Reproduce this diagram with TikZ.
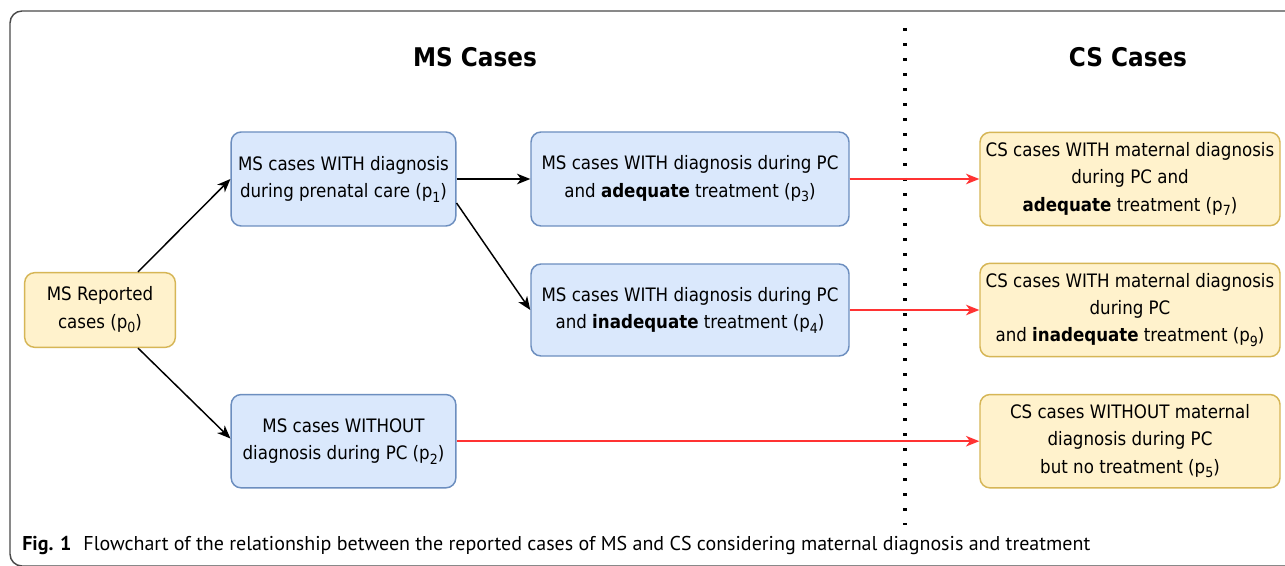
\documentclass[tikz,border=0pt]{standalone}
\usepackage{fontspec}
\setmainfont{DejaVu Sans Condensed}
\newfontfamily\capfont{PT Sans}
\usepackage{xcolor}
\usetikzlibrary{arrows.meta}
\definecolor{MsFill}{HTML}{DAE8FC}
\definecolor{MsLine}{HTML}{6C8EBF}
\definecolor{CsFill}{HTML}{FFF2CC}
\definecolor{CsLine}{HTML}{D6B656}
\definecolor{Frame}{HTML}{4A4A4A}
\definecolor{Link}{HTML}{FF3333}
\newcommand\pidx[1]{p\raisebox{-0.25em}{\fontsize{10.5}{10.5}\selectfont #1}}
\tikzset{
  box/.style={line width=1.1pt,rounded corners=7.5pt,align=center,
    font=\fontsize{13.9}{20.5}\selectfont,inner sep=2pt},
  msbox/.style={box,draw=MsLine,fill=MsFill},
  csbox/.style={box,draw=CsLine,fill=CsFill,minimum width=225pt,minimum height=70pt},
  arr/.style={line width=1.1pt,-{Stealth[length=10pt,width=8pt,inset=3pt]}},
  redarr/.style={arr,draw=Link,fill=Link},
}

\begin{document}
\begin{tikzpicture}[x=0.75pt,y=0.75pt]
\path[use as bounding box,fill=white] (0,0) rectangle (1285,565);
\begin{scope}
\clip (0,0) rectangle (1285,565);
\draw[Frame,line width=1.1pt,rounded corners=9pt] (10,554) rectangle (1320,-1);
\end{scope}
% column titles
\node[font=\fontsize{19.3}{23}\selectfont\bfseries] (mstitle) at (475,508) {MS Cases};
\node[font=\fontsize{19.3}{23}\selectfont\bfseries] (cstitle) at (1128,508) {CS Cases};
\draw[line width=2.6pt,dash pattern=on 2.6pt off 8.65pt] (905,537) -- (905,40);
% MS side
\node[box,draw=CsLine,fill=CsFill,minimum width=113pt,minimum height=56pt] (p0) at (100,255)
  {MS Reported\\cases (\pidx{0})};
\node[msbox,minimum width=168.5pt,minimum height=70.5pt] (p1) at (343.5,386)
  {MS cases WITH diagnosis\\during prenatal care (\pidx{1})};
\node[msbox,minimum width=168.5pt,minimum height=70pt] (p2) at (343.5,123.8)
  {MS cases WITHOUT\\diagnosis during PC (\pidx{2})};
\node[msbox,minimum width=238.5pt,minimum height=70.5pt] (p3) at (690,386)
  {MS cases WITH diagnosis during PC\\and \textbf{adequate} treatment (\pidx{3})};
\node[msbox,minimum width=238.5pt,minimum height=69pt] (p4) at (690,255)
  {MS cases WITH diagnosis during PC\\and \textbf{inadequate} treatment (\pidx{4})};
% CS side
\node[csbox] (p7) at (1130,386)
  {CS cases WITH maternal diagnosis\\during PC and\\\textbf{adequate} treatment (\pidx{7})};
\node[csbox] (p9) at (1130,255)
  {CS cases WITH maternal diagnosis\\during PC\\and \textbf{inadequate} treatment (\pidx{9})};
\node[csbox] (p5) at (1130,123.8)
  {CS cases WITHOUT maternal\\diagnosis during PC\\but no treatment (\pidx{5})};
% connectors
\draw[arr] ([xshift=28.5pt]p0.north) -- (p1.west);
\draw[arr] ([xshift=28.5pt]p0.south) -- ([yshift=2pt]p2.west);
\draw[arr] (p1.east) -- (p3.west);
\draw[arr] ([yshift=-18pt]p1.east) -- (p4.west);
\draw[redarr] (p3.east) -- (p7.west);
\draw[redarr] (p4.east) -- (p9.west);
\draw[redarr] (p2.east) -- (p5.west);
% caption
\node[anchor=west,font=\capfont\fontsize{15}{18}\selectfont,inner sep=0pt] (caption) at (22,20)
  {\textbf{Fig.\,\,1}\hspace{0.6em}Flowchart of the relationship between the reported cases of MS and CS considering maternal diagnosis and treatment};
\end{tikzpicture}
\end{document}
